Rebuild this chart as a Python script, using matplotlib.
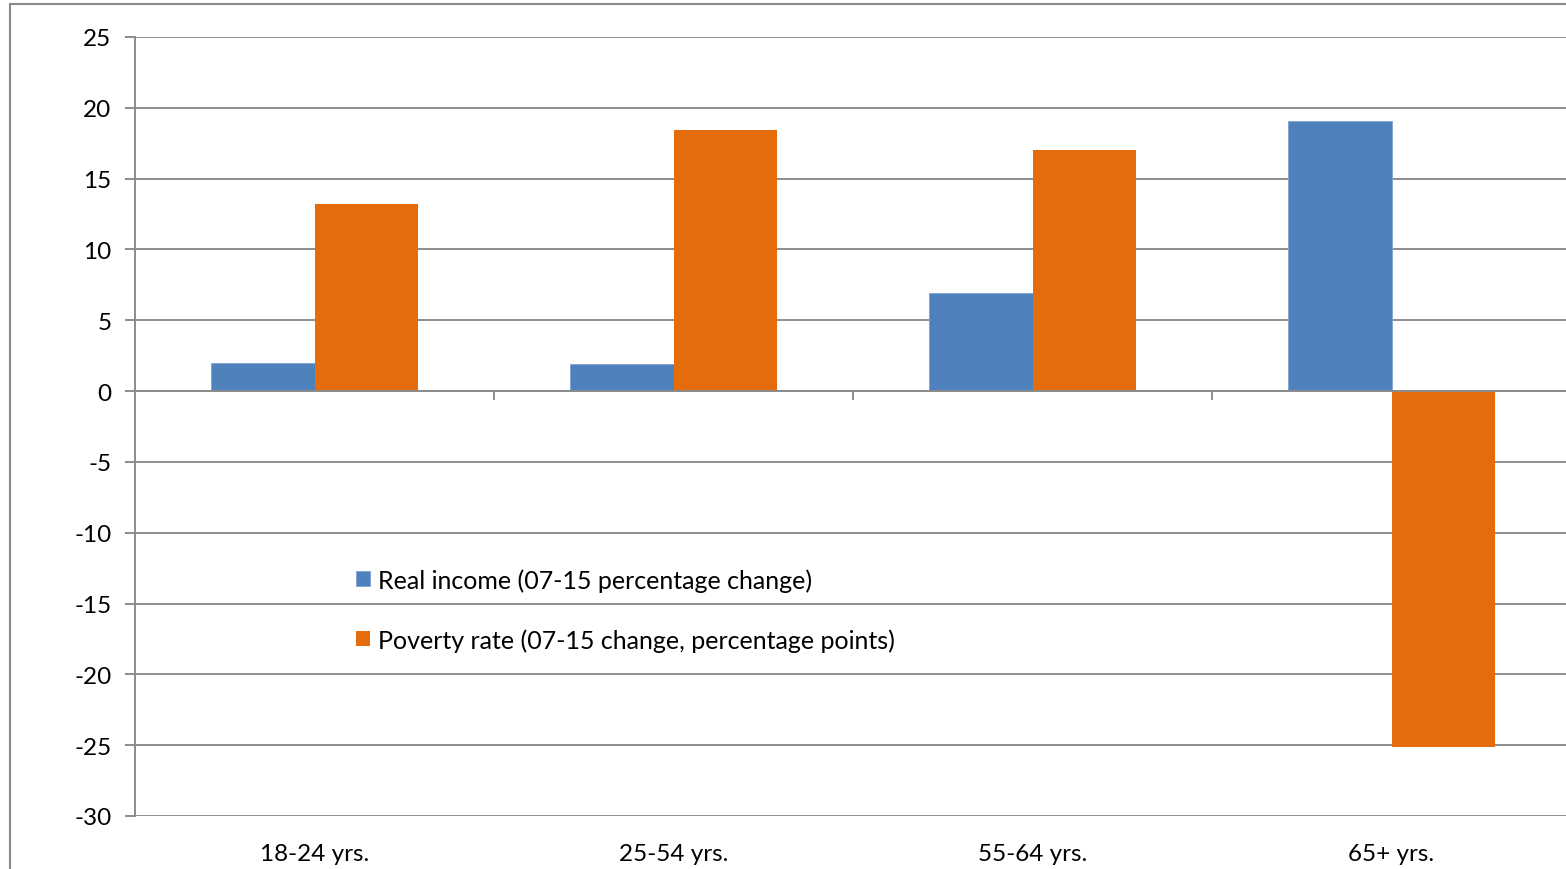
import matplotlib
matplotlib.use("Agg")
import matplotlib.pyplot as plt
from matplotlib.patches import Rectangle
import numpy as np

# data
categories = ["18-24 yrs.", "25-54 yrs.", "55-64 yrs.", "65+ yrs."]
real_income = [2.0, 1.9, 6.9, 19.1]
poverty_rate = [13.2, 18.4, 17.0, -25.1]
series_names = ["Real income (07-15 percentage change)",
                "Poverty rate (07-15 change, percentage points)"]
y_ticks = [-30, -25, -20, -15, -10, -5, 0, 5, 10, 15, 20, 25]

blue = "#4f81bd"
orange = "#e46c0a"
gray = "#8c8c8c"

plt.rcParams["font.family"] = ["Lato", "DejaVu Sans"]
plt.rcParams["axes.unicode_minus"] = False

fig = plt.figure(figsize=(15.66, 8.70), dpi=100)
ax = fig.add_axes([135 / 1566, 53 / 870, 1436 / 1566, 779 / 870])

x = np.arange(len(categories))
w = 0.287
ax.bar(x - w / 2, real_income, w, color=blue, label=series_names[0], zorder=3,
       edgecolor="#7fa3d0", linewidth=0.6)
ax.bar(x + w / 2, poverty_rate, w, color=orange, label=series_names[1], zorder=3)

ax.set_xlim(-0.5, len(categories) - 0.5)
ax.set_ylim(-30, 25)
ax.set_yticks(y_ticks)
ax.set_xticks(x)
ax.set_xticklabels(categories)

# grid lines
for t in y_ticks:
    ax.axhline(t, color=gray, lw=1.4, zorder=1)

# category axis crossing at zero, with tick marks between groups
ax.axhline(0, color=gray, lw=1.4, zorder=4)
ax.vlines(x[:-1] + 0.5, -0.6, 0, color=gray, lw=1.4, zorder=4)

for s in ["top", "right", "bottom"]:
    ax.spines[s].set_visible(False)
ax.spines["left"].set_color(gray)
ax.spines["left"].set_linewidth(1.4)

ax.tick_params(axis="y", length=7, width=1.4, color=gray, pad=10,
               labelsize=17.5, labelcolor="black")
ax.tick_params(axis="x", length=0, pad=19.5, labelsize=17.5, labelcolor="black")

leg = ax.legend(loc="upper left", bbox_to_anchor=(346 / 1566, 1 - 559 / 870),
                bbox_transform=fig.transFigure, frameon=False, fontsize=18,
                handlelength=0.55, handleheight=0.55, handletextpad=0.35,
                labelspacing=1.46, borderaxespad=0)

# chart area border (left and top visible)
fig.patches.append(Rectangle((10 / 1566, -0.1), 1.2, 0.1 + 865 / 870,
                             transform=fig.transFigure, fill=False,
                             edgecolor="#8a8a8a", linewidth=1.5))

fig.savefig("out.png", dpi=100)
